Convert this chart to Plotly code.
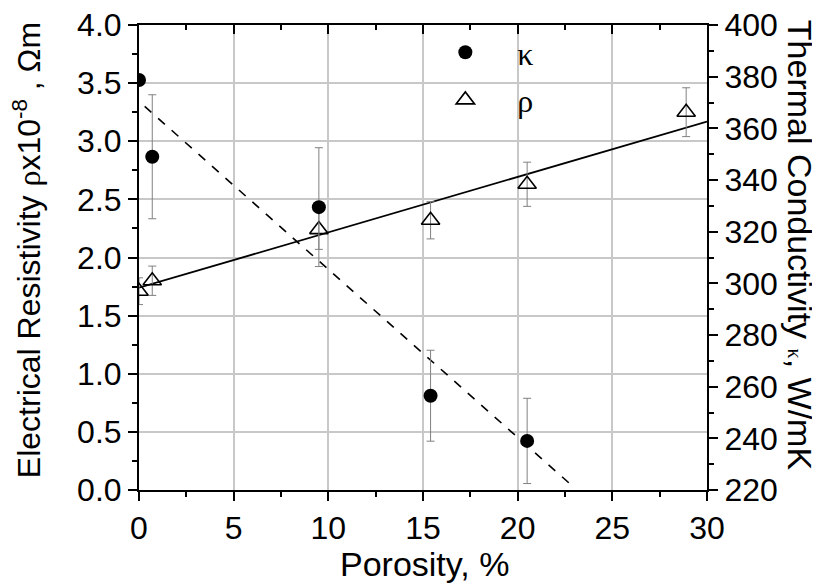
import plotly.graph_objects as go

# ---- data ----
porosity_kappa = [0.0, 0.7, 9.5, 15.4, 20.5]
kappa = [378.7, 349.0, 329.5, 256.5, 239.0]
kappa_err = [0.0, 24.0, 23.0, 17.6, 16.5]

porosity_rho = [0.0, 0.7, 9.5, 15.4, 20.5, 28.9]
rho = [1.71, 1.80, 2.24, 2.32, 2.63, 3.25]
rho_err = [0.115, 0.126, 0.17, 0.16, 0.19, 0.21]

rho_fit_x = [0.0, 30.0]
rho_fit_y = [1.74, 3.17]
kappa_fit_x = [0.3, 22.9]
kappa_fit_y = [368.5, 221.5]

x_ticks = [0, 5, 10, 15, 20, 25, 30]
left_ticks = [0.0, 0.5, 1.0, 1.5, 2.0, 2.5, 3.0, 3.5, 4.0]
right_ticks = [220, 240, 260, 280, 300, 320, 340, 360, 380, 400]

FONT = "Liberation Sans, Arial, sans-serif"
SERIF = "Liberation Serif, Times New Roman, serif"
ERRC = "#808080"
TICKSIZE = 32

fig = go.Figure()

fig.add_trace(go.Scatter(
    x=kappa_fit_x, y=kappa_fit_y, mode="lines", yaxis="y2",
    line=dict(color="black", width=1.6, dash="dash"), showlegend=False,
    hoverinfo="skip"))
fig.add_trace(go.Scatter(
    x=rho_fit_x, y=rho_fit_y, mode="lines",
    line=dict(color="black", width=1.8), showlegend=False, hoverinfo="skip"))

fig.add_trace(go.Scatter(
    x=porosity_kappa, y=kappa, mode="markers", yaxis="y2", name="κ",
    legendgroup="k",
    marker=dict(symbol="circle", size=14, color="black"),
    error_y=dict(type="data", array=kappa_err, color=ERRC, thickness=1, width=4)))
fig.add_trace(go.Scatter(
    x=porosity_rho, y=rho, mode="markers", name="ρ", legendgroup="r",
    marker=dict(symbol="triangle-up-open", size=16, color="black",
                line=dict(width=1.6, color="black")),
    error_y=dict(type="data", array=rho_err, color=ERRC, thickness=1, width=4)))

# dummy trace for top axis
fig.add_trace(go.Scatter(x=[None], y=[None], xaxis="x2", showlegend=False,
                         hoverinfo="skip"))

axis_common = dict(showline=True, linecolor="black", linewidth=2,
                   tickcolor="black", tickwidth=2,
                   tickfont=dict(family=FONT, size=TICKSIZE, color="black"),
                   ticklabeloverflow="allow", automargin=False,
                   zeroline=False)

fig.update_layout(
    width=820, height=586,
    margin=dict(l=131, r=121, t=17, b=104, autoexpand=False),
    paper_bgcolor="white", plot_bgcolor="white",
    font=dict(family=FONT, color="black"),
    xaxis=dict(range=[0, 30], tickvals=x_ticks, ticks="outside", ticklen=9,
               showgrid=True, gridcolor="#c8c8c8", gridwidth=2,
               minor=dict(ticks="outside", ticklen=5, dtick=2.5,
                          tickcolor="black", tickwidth=2, showgrid=False),
               **axis_common),
    xaxis2=dict(range=[0, 30], overlaying="x", side="top", anchor="y",
                tickvals=x_ticks, ticks="inside", ticklen=9,
                showticklabels=False, showgrid=False,
                minor=dict(ticks="inside", ticklen=5, dtick=2.5,
                           tickcolor="black", tickwidth=2, showgrid=False),
                **axis_common),
    yaxis=dict(range=[0, 4], tickvals=left_ticks, ticktext=[f"{v:.1f}" for v in left_ticks],
               ticks="outside", ticklen=9,
               showgrid=True, gridcolor="#c8c8c8", gridwidth=2,
               minor=dict(ticks="outside", ticklen=5, dtick=0.25,
                          tickcolor="black", tickwidth=2, showgrid=False),
               **axis_common),
    yaxis2=dict(range=[220, 400], tickvals=right_ticks, overlaying="y",
                side="right", anchor="x", ticks="outside", ticklen=9,
                showgrid=False,
                minor=dict(ticks="outside", ticklen=5, dtick=10,
                           tickcolor="black", tickwidth=2, showgrid=False),
                **axis_common),
    legend=dict(x=0.483, y=1.0, xanchor="left", yanchor="top",
                bgcolor="rgba(0,0,0,0)", borderwidth=0,
                font=dict(family=SERIF, size=32, color="black"),
                itemwidth=94, tracegroupgap=3, traceorder="grouped"),
    showlegend=True,
)

fig.add_annotation(
    text="Porosity, %", xref="paper", yref="paper", x=0.503, y=-0.16,
    xanchor="center", yanchor="middle", showarrow=False,
    font=dict(family=FONT, size=34, color="black"))
fig.add_annotation(
    text="Electrical Resistivity <span style='font-family:Liberation Serif'>ρ</span>x10<sup>-8</sup> , Ωm",
    xref="paper", yref="paper", x=-0.197, y=0.516, xanchor="center", yanchor="middle",
    textangle=-90, showarrow=False, font=dict(family=FONT, size=32, color="black"))
fig.add_annotation(
    text="Thermal Conductivity <span style='font-family:Liberation Serif;font-size:20px'>κ</span>, W/mK",
    xref="paper", yref="paper", x=1.164, y=0.527, xanchor="center", yanchor="middle",
    textangle=90, showarrow=False, font=dict(family=FONT, size=34, color="black"))

fig.write_html("out.html")
